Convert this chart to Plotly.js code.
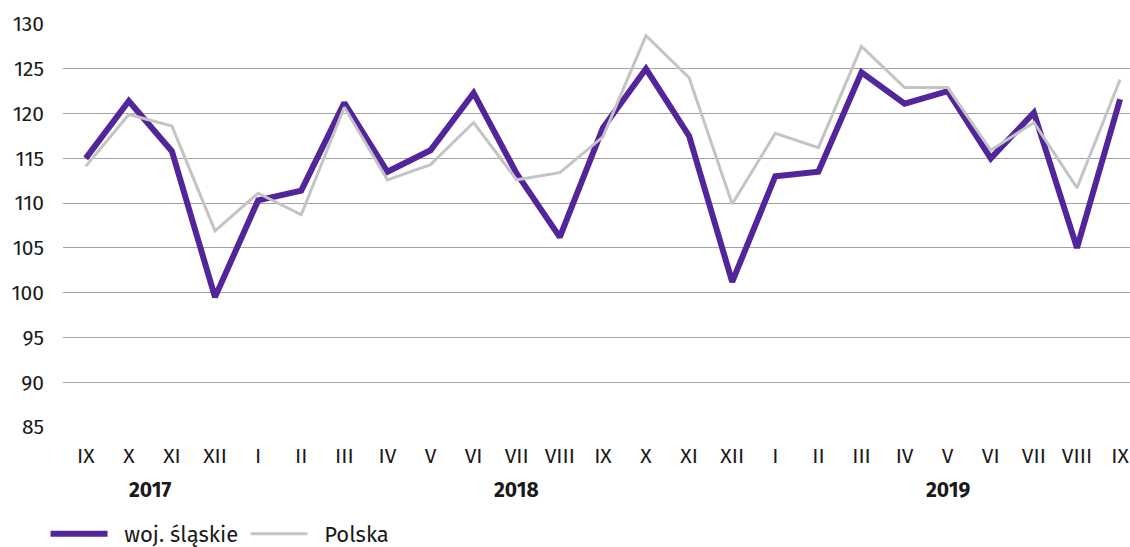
<!DOCTYPE html>
<html>
<head>
<meta charset="utf-8">
<script src="https://cdn.plot.ly/plotly-3.0.1.min.js"></script>
<style>html,body{margin:0;padding:0;background:#fff;}#chart{width:1130px;height:547px;}</style>
</head>
<body>
<div id="chart"></div>
<script>
const months = ["IX","X","XI","XII","I","II","III","IV","V","VI","VII","VIII","IX","X","XI","XII","I","II","III","IV","V","VI","VII","VIII","IX"];
const slaskie = [115.0,121.4,115.8,99.5,110.3,111.4,121.2,113.5,115.9,122.3,113.3,106.2,118.4,125.0,117.5,101.2,113.0,113.5,124.6,121.1,122.5,115.0,120.1,105.0,121.6];
const polska  = [114.1,119.9,118.6,106.9,111.1,108.7,120.7,112.6,114.3,119.0,112.6,113.4,117.4,128.7,124.0,109.9,117.8,116.2,127.5,122.9,122.9,115.9,119.0,111.7,123.8];
const years = ["2017","2018","2019"];
const yearPos = [1.5, 10, 20];
const seriesNames = ["woj. śląskie","Polska"];

const idx = months.map((_, i) => i);
const font = "Fira Sans, Roboto, sans-serif";
const pad = "\u00a0\u00a0";

const traces = [
  {x: idx, y: slaskie, type: "scatter", mode: "lines", name: pad + seriesNames[0],
   line: {color: "#52259b", width: 6, shape: "linear"}},
  {x: idx, y: polska, type: "scatter", mode: "lines", name: pad + seriesNames[1],
   line: {color: "#c4c4c4", width: 3, shape: "linear"}}
];

const layout = {
  width: 1130, height: 547,
  margin: {l: 63, r: 0, t: 24, b: 120, autoexpand: false},
  paper_bgcolor: "#fff", plot_bgcolor: "#fff",
  font: {family: font, size: 21, color: "#1a1a1a"},
  showlegend: true,
  legend: {orientation: "h", xref: "container", yref: "container", x: 0.0403, y: 0.024,
           xanchor: "left", yanchor: "middle", entrywidth: 128, entrywidthmode: "pixels",
           font: {family: font, size: 22, color: "#1a1a1a"}, itemwidth: 57, traceorder: "normal"},
  xaxis: {range: [-0.527, 24.23], tickmode: "array", tickvals: idx, ticktext: months,
          showgrid: false, zeroline: false, showline: false, ticks: "",
          ticklabelstandoff: 14, tickfont: {family: font, size: 21, color: "#1a1a1a"}, fixedrange: true},
  yaxis: {range: [85, 130], dtick: 5, tick0: 85, showgrid: true, gridcolor: "#a3a3a3", gridwidth: 1,
          zeroline: false, showline: false, ticks: "", ticklabelstandoff: 18,
          tickfont: {family: font, size: 21, color: "#1a1a1a"}, fixedrange: true},
  annotations: years.map((t, i) => ({
    text: "<b>" + t + "</b>", x: yearPos[i], xref: "x", y: -0.156, yref: "paper",
    xanchor: "center", yanchor: "middle", showarrow: false,
    font: {family: font, size: 21, color: "#1a1a1a"}
  }))
};

Plotly.newPlot("chart", traces, layout, {displayModeBar: false, staticPlot: true});
</script>
</body>
</html>
